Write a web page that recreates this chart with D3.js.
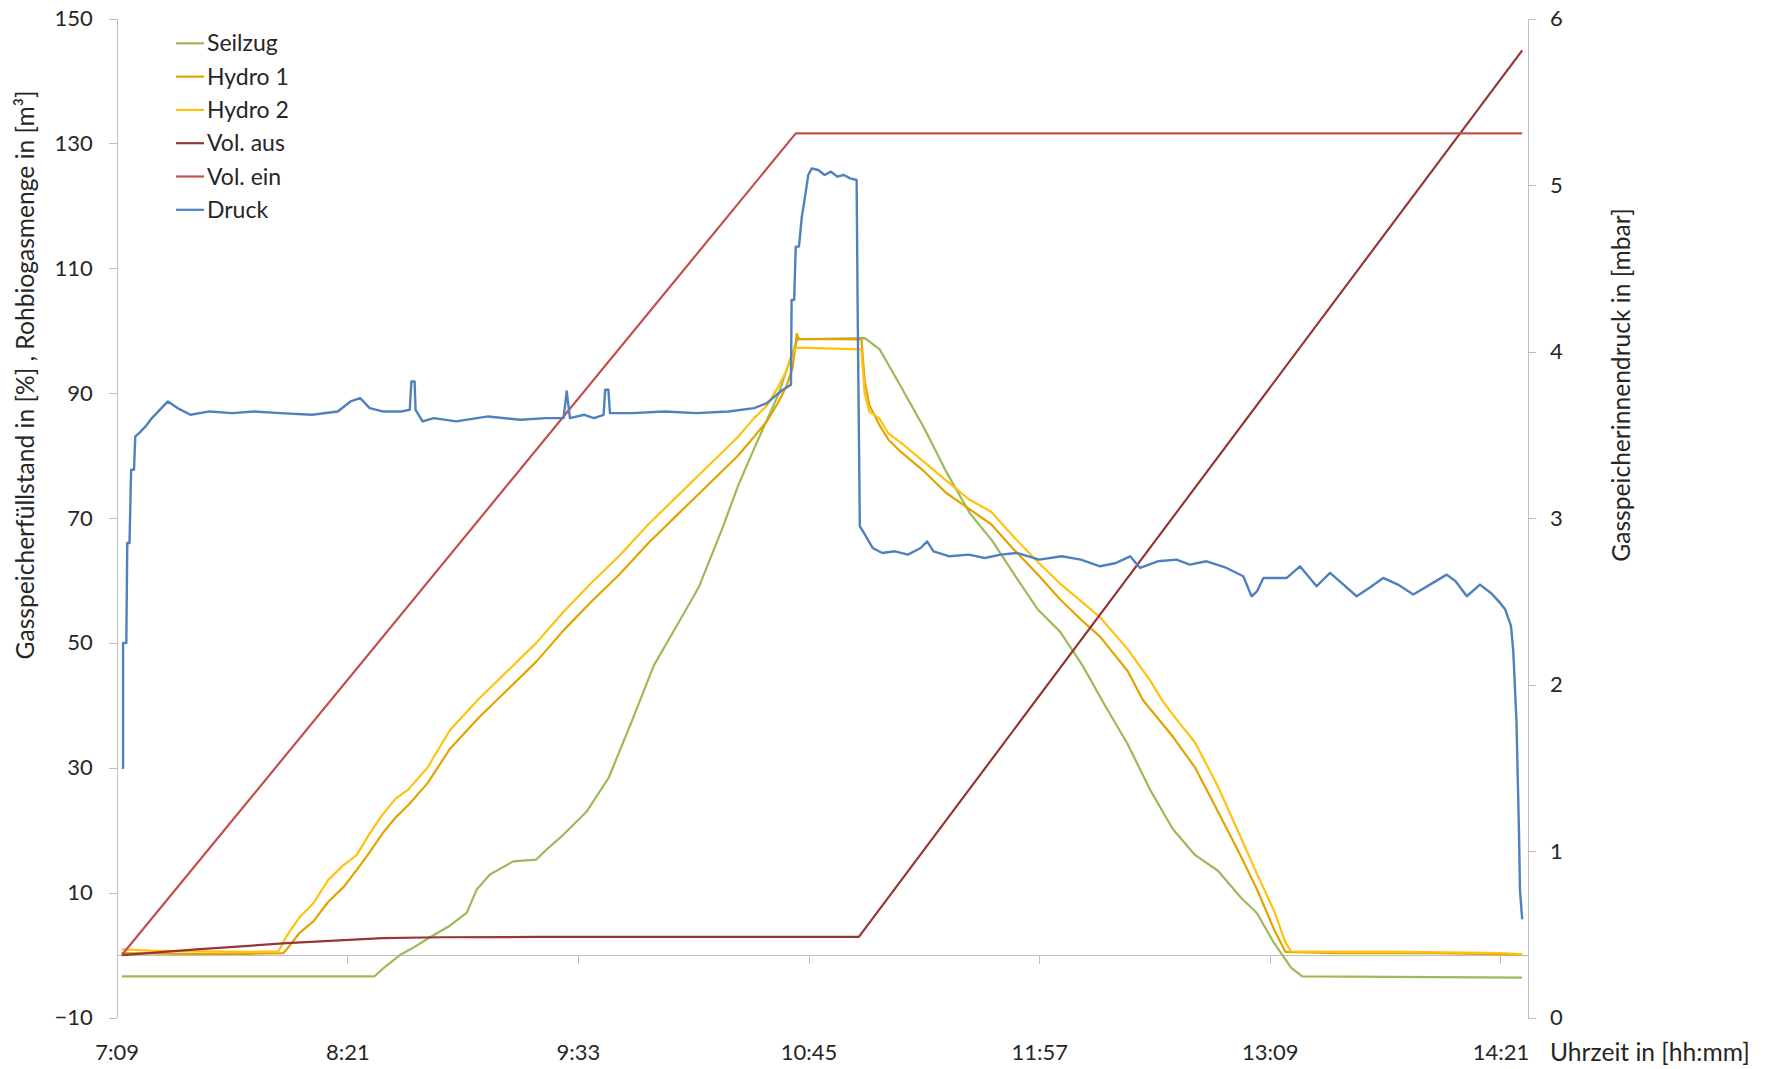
<!DOCTYPE html>
<html>
<head>
<meta charset="utf-8">
<title>Gasspeicher</title>
<script src="https://cdn.jsdelivr.net/npm/d3@7"></script>
<style>
    body { margin: 0; background: #fff; }
    text { font-family: Lato, "Open Sans", sans-serif; fill: #262626; }
    .axis path, .axis line { stroke: #BFBFBF; shape-rendering: crispEdges; }
</style>
</head>
<body>
<div id="chart-area"></div>
<script>
// all times are minutes after midnight (7:09 = 429)

// Seilzug, Gasspeicherfuellstand in %
var seilzug = [[430.6,-3.4],[509.5,-3.4],[513,-1.8],[517.4,0],[521,1.0],[526.3,2.7],[533,4.7],[538.3,6.8],[541.4,10.5],[545.5,12.9],
    [552.8,15.0],[560,15.3],[563.2,16.9],[568.5,19.3],[575.6,22.9],[582.6,28.4],[589.7,37.3],[596.7,46.4],[603.8,52.7],[610.8,59.0],
    [617.9,68.1],[623.1,75.3],[628.4,81.6],[635.5,89.7],[639,95],[641.5,98.6],[662.6,98.8],[667.2,97],[674.2,90.7],[681.2,84.3],
    [688.3,77.1],[695.3,70.8],[702.4,66.3],[709.4,60.8],[716.5,55.4],[723.5,51.8],[730.5,46.4],[737.5,40.0],[744.6,33.8],[751.6,26.5],
    [758.7,20.2],[765.7,16.0],[772.8,13.5],[779.8,9.3],[785,6.7],[790,2.2],[795.6,-2.0],[799.1,-3.4],[867.8,-3.6]];

// Hydro 1
var hydro1 = [[430.6,0.3],[450,0.2],[470,0.2],[481,0.3],[483,1.5],[486,3.5],[490.4,5.4],[495,8.5],[500,11],[503.9,13.6],
    [508,16.5],[512,19.5],[516,22],[520,24],[526,27.5],[533,33],[542,38],[551,42.5],[560,47],[568.5,52],[577,56.5],[586,61],
    [595,66],[604,70.5],[611,74],[618,77.5],[623,80],[628,83],[632,85.5],[635.5,88.5],[638,91],[640,94],[641.3,99.5],[642,98.7],
    [661.5,98.6],[662.5,92],[664,88],[667,85],[670,82.5],[674,80.5],[681,77.5],[688,74],[695,71.5],[702,69],[709,65],[716.5,61],
    [723.5,57],[730.5,53.5],[736,51],[744.6,45.5],[749.4,40.8],[758.7,35],[765.7,30],[772.8,23],[779.8,16],[785,10.5],[790.4,4],
    [793.9,0.5],[810,0.3],[840,0.3],[867.8,0.05]];

// Hydro 2
var hydro2 = [[430.6,0.9],[440,0.7],[455,0.6],[470,0.5],[479.5,0.6],[482,3],[486,6],[490.4,8.3],[495,12],[500,14.5],[503.9,16.0],
    [508,19.5],[512,22.5],[516,25],[520,26.5],[526,30],[533,36],[542,41],[551,45.5],[560,50],[568.5,55],[577,59.5],[586,64],
    [595,69],[604,73.5],[611,77],[618,80.5],[623,83],[628,86],[632,88],[635.5,91],[638,93.5],[640.5,97],[641.5,97.3],[661.5,97.0],
    [662.5,90],[664,87],[667,86],[670,83.5],[674,82],[681,79],[688,76],[695,73],[702,71],[709,67],[716.5,63],[723.5,59.5],
    [730.5,56.5],[736,54.1],[744.6,49],[751.6,44],[755.4,40.8],[758.7,38.5],[765.7,34],[772.8,27],[779.8,19],[785,13],[790.4,7],
    [793.9,2],[795.6,0.6],[810,0.5],[830,0.5],[850,0.4],[861,0.3],[867.8,0.1]];

// Rohbiogasmenge in m3
var volAus = [[430.6,0],[455,0.95],[482,1.9],[512,2.7],[530,2.85],[560,2.9],[660.7,2.9],[867.8,144.9]];
var volEin = [[430.6,0],[641,131.6],[867.8,131.6]];

// Gasspeicherinnendruck in mbar (right axis)
var druck = [[430.6,1.50],[431.0,1.50],[431.0,2.25],[432.0,2.25],[432.3,2.85],[433.0,2.85],[433.5,3.29],[434.4,3.29],[434.8,3.49],
    [436,3.51],[438,3.55],[440,3.60],[442,3.64],[445,3.70],[448,3.66],[452,3.62],[458,3.64],[465,3.63],[472,3.64],[480,3.63],
    [490,3.62],[498,3.64],[502,3.70],[505,3.72],[508,3.66],[512,3.64],[518,3.64],[520.5,3.65],[521,3.82],[522,3.82],[522.3,3.65],
    [524.5,3.58],[528,3.60],[535,3.58],[545,3.61],[555,3.59],[563,3.60],[568.5,3.60],[569.5,3.76],[570.5,3.60],[575,3.62],
    [578,3.60],[581,3.62],[581.5,3.77],[582.5,3.77],[583,3.63],[590,3.63],[600,3.64],[610,3.63],[620,3.64],[628,3.66],[632,3.69],
    [635,3.74],[637,3.77],[639.5,3.80],[639.7,4.31],[640.5,4.31],[641,4.63],[642,4.63],[642.9,4.81],[643.9,4.93],[644.9,5.06],
    [646,5.10],[648,5.09],[650,5.06],[652,5.08],[654,5.05],[656,5.06],[658,5.04],[660,5.03],[660.3,4.30],[661,2.95],[662,2.92],
    [665,2.82],[668,2.79],[672,2.80],[676,2.78],[680,2.82],[682,2.86],[684,2.80],[689,2.77],[695,2.78],[700,2.76],[705,2.78],
    [710,2.79],[717,2.75],[724,2.77],[730,2.75],[736,2.71],[741,2.73],[745.4,2.77],[748.5,2.70],[754,2.74],[759.9,2.75],[764,2.72],
    [769.3,2.74],[775.5,2.70],[780.7,2.65],[783.3,2.53],[785,2.56],[787,2.64],[794.3,2.64],[798.4,2.71],[803.6,2.59],[807.8,2.67],
    [812,2.60],[816.1,2.53],[820,2.58],[824.4,2.64],[829,2.60],[833.8,2.54],[839,2.60],[844.2,2.66],[847,2.62],[850.5,2.53],
    [854.6,2.60],[858,2.55],[860.9,2.49],[862.5,2.45],[864.3,2.35],[865,2.20],[866,1.78],[866.4,1.44],[866.8,1.10],[867.1,0.76],
    [867.5,0.66],[867.8,0.59]];

var seriesNames = ["Seilzug", "Hydro 1", "Hydro 2", "Vol. aus", "Vol. ein", "Druck"];
var seriesColors = ["#9BBB59", "#E3A400", "#FFC20E", "#953735", "#C0504D", "#4F81BD"];

// axis ticks
var timeTicks = [429, 501, 573, 645, 717, 789, 861];
var leftTicks = [-10, 10, 30, 50, 70, 90, 110, 130, 150];
var rightTicks = [0, 1, 2, 3, 4, 5, 6];
var timeDomain = [429, 869.6];

var leftTitle = "Gasspeicherfüllstand in [%] , Rohbiogasmenge in [m³]";
var rightTitle = "Gasspeicherinnendruck in [mbar]";
var xTitle = "Uhrzeit in [hh:mm]";


/* GasChart - Object constructor function */
GasChart = function(_parentElement, _series) {
    this.parentElement = _parentElement;
    this.series = _series;

    this.initVis();
}

GasChart.prototype.initVis = function() {
    var vis = this;

    vis.margin = { top: 18.5, bottom: 51.5, left: 116.7 };
    // plot reaches the right axis at x = 1528
    vis.width = 1528 - vis.margin.left;
    vis.height = 1069 - vis.margin.top - vis.margin.bottom;

    vis.svg = d3.select("#" + vis.parentElement)
        .append("svg")
        .attr("width", 1768)
        .attr("height", 1069)
        .append("g")
        .attr("transform", "translate(" + vis.margin.left + "," + vis.margin.top + ")");

    // scales
    vis.x = d3.scaleLinear().domain(timeDomain).range([0, vis.width]);
    vis.y = d3.scaleLinear().domain([-10, 150]).range([vis.height, 0]);
    vis.yRight = d3.scaleLinear().domain([0, 6]).range([vis.height, 0]);

    vis.xAxis = d3.axisBottom(vis.x)
        .tickValues(timeTicks)
        .tickSize(9)
        .tickSizeOuter(0)
        .tickPadding(80)
        .tickFormat(function(m) { return Math.floor(m / 60) + ":" + d3.format("02")(m % 60); });

    vis.yAxis = d3.axisLeft(vis.y)
        .tickValues(leftTicks)
        .tickSize(8)
        .tickSizeOuter(0)
        .tickPadding(16);

    vis.yAxisRight = d3.axisRight(vis.yRight)
        .tickValues(rightTicks)
        .tickSize(8)
        .tickSizeOuter(0)
        .tickPadding(14)
        .tickFormat(d3.format("d"));

    vis.updateVis();
}

GasChart.prototype.updateVis = function() {
    var vis = this;

    // x axis sits on the zero line of the left axis
    vis.svg.append("g")
        .attr("class", "x-axis axis")
        .attr("transform", "translate(0," + vis.y(0) + ")")
        .call(vis.xAxis);

    vis.svg.append("g")
        .attr("class", "y-axis axis")
        .call(vis.yAxis);

    vis.svg.append("g")
        .attr("class", "y-axis-right axis")
        .attr("transform", "translate(" + vis.width + ",0)")
        .call(vis.yAxisRight);

    vis.svg.selectAll(".axis text")
        .attr("font-size", 22)
        .style("font-family", "Lato, 'Open Sans', sans-serif")
        .attr("fill", "#262626");

    // lines
    var lineLeft = d3.line()
        .x(d => vis.x(d[0]))
        .y(d => vis.y(d[1]));

    var lineRight = d3.line()
        .x(d => vis.x(d[0]))
        .y(d => vis.yRight(d[1]));

    vis.svg.selectAll(".series")
        .data(vis.series)
        .enter()
        .append("path")
        .attr("class", "series")
        .attr("fill", "none")
        .attr("stroke", (d, i) => seriesColors[i])
        .attr("stroke-width", (d, i) => i == 5 ? 2.4 : 2.2)
        .attr("stroke-linejoin", "round")
        .attr("d", (d, i) => i == 5 ? lineRight(d) : lineLeft(d));

    // legend
    var legend = vis.svg.selectAll(".legend")
        .data(seriesNames)
        .enter()
        .append("g")
        .attr("class", "legend")
        .attr("transform", (d, i) => "translate(" + (176 - vis.margin.left) + "," + (43.3 + i * 33.3 - vis.margin.top) + ")");

    legend.append("line")
        .attr("x1", 0)
        .attr("x2", 28)
        .attr("stroke", (d, i) => seriesColors[i])
        .attr("stroke-width", 2.2);

    legend.append("text")
        .attr("x", 31)
        .attr("dy", "0.35em")
        .attr("font-size", 23)
        .text(d => d);

    // axis titles
    vis.svg.append("text")
        .attr("transform", "translate(" + (25 - vis.margin.left) + "," + (375 - vis.margin.top) + ") rotate(-90)")
        .attr("text-anchor", "middle")
        .attr("dy", "0.35em")
        .attr("font-size", 24.6)
        .text(leftTitle);

    vis.svg.append("text")
        .attr("transform", "translate(" + (1621 - vis.margin.left) + "," + (385 - vis.margin.top) + ") rotate(-90)")
        .attr("text-anchor", "middle")
        .attr("dy", "0.35em")
        .attr("font-size", 24.6)
        .text(rightTitle);

    vis.svg.append("text")
        .attr("x", 1550 - vis.margin.left)
        .attr("y", 1061 - vis.margin.top)
        .attr("font-size", 24.6)
        .text(xTitle);
}

var chart = new GasChart("chart-area", [seilzug, hydro1, hydro2, volAus, volEin, druck]);
</script>
</body>
</html>
